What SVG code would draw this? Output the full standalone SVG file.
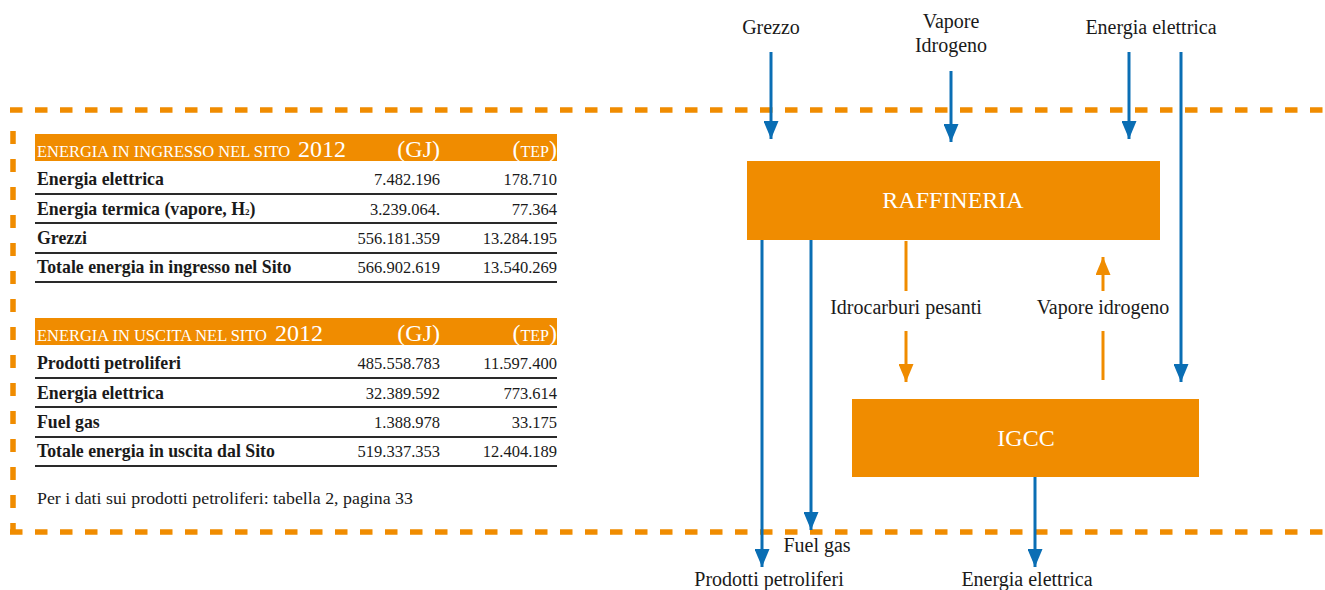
<svg xmlns="http://www.w3.org/2000/svg" width="1325" height="590" viewBox="0 0 1325 590">
<defs>
<style>
.t{font-family:"Liberation Serif","Times New Roman",serif;fill:#1a1a1a}
.lbl{font-size:20px;text-anchor:middle}
.rb{font-size:17.8px;font-weight:bold}
.num{font-size:16.5px;text-anchor:end}
.hd{fill:#ffffff;font-family:"Liberation Serif","Times New Roman",serif}
.bar{fill:#f08c00}
.rule{stroke:#2a2a2a;stroke-width:2}
.blue{stroke:#0a6eb4;stroke-width:3;fill:none}
.org{stroke:#f08c00;stroke-width:3;fill:none}
.dash{stroke:#f08c00;stroke-width:5.5;fill:none}
.box{fill:#f08c00}
.boxt{fill:#ffffff;font-family:"Liberation Serif","Times New Roman",serif;font-size:24px;text-anchor:middle}
</style>
<marker id="ab" markerWidth="6" markerHeight="5" refX="6" refY="2.5" orient="auto" markerUnits="strokeWidth"><path d="M0,0 L6,2.5 L0,5 Z" fill="#0a6eb4"/></marker>
<marker id="ao" markerWidth="6" markerHeight="5" refX="6" refY="2.5" orient="auto" markerUnits="strokeWidth"><path d="M0,0 L6,2.5 L0,5 Z" fill="#f08c00"/></marker>
</defs>
<rect width="1325" height="590" fill="#ffffff"/>

<g id="boundary">
<line class="dash" x1="10" y1="110" x2="1325" y2="110" stroke-dasharray="12.5 12.5"/>
<line class="dash" x1="10" y1="532" x2="1325" y2="532" stroke-dasharray="12.5 12.5"/>
<line class="dash" x1="13" y1="131" x2="13" y2="530" stroke-width="6" stroke-dasharray="13 15"/>
</g>

<g id="table-ingresso">
<rect class="bar" x="35" y="134" width="522" height="27"/>
<text class="hd" x="37" y="157" font-size="16" textLength="253" lengthAdjust="spacingAndGlyphs">ENERGIA IN INGRESSO NEL SITO</text>
<text class="hd" x="298" y="157" font-size="24">2012</text>
<text class="hd" x="440" y="157" font-size="24" text-anchor="end">(GJ)</text>
<text class="hd" x="557" y="157" text-anchor="end"><tspan font-size="24">(</tspan><tspan font-size="16">TEP</tspan><tspan font-size="24">)</tspan></text>
<text class="t rb" x="37" y="185">Energia elettrica</text>
<text class="t num" x="440" y="185">7.482.196</text>
<text class="t num" x="557" y="185">178.710</text>
<line class="rule" x1="35" y1="194" x2="557" y2="194"/>
<text class="t rb" x="37" y="215">Energia termica (vapore, H<tspan font-size="9">2</tspan>)</text>
<text class="t num" x="440" y="215">3.239.064.</text>
<text class="t num" x="557" y="215">77.364</text>
<line class="rule" x1="35" y1="223" x2="557" y2="223"/>
<text class="t rb" x="37" y="244">Grezzi</text>
<text class="t num" x="440" y="244">556.181.359</text>
<text class="t num" x="557" y="244">13.284.195</text>
<line class="rule" x1="35" y1="253" x2="557" y2="253" stroke="#555"/>
<text class="t rb" x="37" y="273">Totale energia in ingresso nel Sito</text>
<text class="t num" x="440" y="273">566.902.619</text>
<text class="t num" x="557" y="273">13.540.269</text>
<line class="rule" x1="35" y1="282" x2="557" y2="282"/>
</g>

<g id="table-uscita">
<rect class="bar" x="35" y="318" width="522" height="27"/>
<text class="hd" x="37" y="341" font-size="16" textLength="230" lengthAdjust="spacingAndGlyphs">ENERGIA IN USCITA NEL SITO</text>
<text class="hd" x="275" y="341" font-size="24">2012</text>
<text class="hd" x="440" y="341" font-size="24" text-anchor="end">(GJ)</text>
<text class="hd" x="557" y="341" text-anchor="end"><tspan font-size="24">(</tspan><tspan font-size="16">TEP</tspan><tspan font-size="24">)</tspan></text>
<text class="t rb" x="37" y="369">Prodotti petroliferi</text>
<text class="t num" x="440" y="369">485.558.783</text>
<text class="t num" x="557" y="369">11.597.400</text>
<line class="rule" x1="35" y1="378" x2="557" y2="378"/>
<text class="t rb" x="37" y="399">Energia elettrica</text>
<text class="t num" x="440" y="399">32.389.592</text>
<text class="t num" x="557" y="399">773.614</text>
<line class="rule" x1="35" y1="407" x2="557" y2="407"/>
<text class="t rb" x="37" y="428">Fuel gas</text>
<text class="t num" x="440" y="428">1.388.978</text>
<text class="t num" x="557" y="428">33.175</text>
<line class="rule" x1="35" y1="437" x2="557" y2="437" stroke="#555"/>
<text class="t rb" x="37" y="457">Totale energia in uscita dal Sito</text>
<text class="t num" x="440" y="457">519.337.353</text>
<text class="t num" x="557" y="457">12.404.189</text>
<line class="rule" x1="35" y1="466" x2="557" y2="466"/>
<text class="t" x="37" y="504" font-size="16.5" fill="#333" textLength="376" lengthAdjust="spacingAndGlyphs">Per i dati sui prodotti petroliferi: tabella 2, pagina 33</text>
</g>

<g id="raffineria">
<rect class="box" x="747" y="161" width="413" height="79"/>
<text class="boxt" x="953" y="208">RAFFINERIA</text>
</g>

<g id="igcc">
<rect class="box" x="852" y="399" width="347" height="78"/>
<text class="boxt" x="1026" y="446">IGCC</text>
</g>

<g id="connectors">
<line class="blue" x1="771" y1="52" x2="771" y2="139" marker-end="url(#ab)"/>
<line class="blue" x1="951" y1="71" x2="951" y2="142" marker-end="url(#ab)"/>
<line class="blue" x1="1129" y1="52" x2="1129" y2="139" marker-end="url(#ab)"/>
<line class="blue" x1="1181" y1="52" x2="1181" y2="382" marker-end="url(#ab)"/>
<line class="blue" x1="762" y1="240" x2="762" y2="567" marker-end="url(#ab)"/>
<line class="blue" x1="811" y1="240" x2="811" y2="530" marker-end="url(#ab)"/>
<line class="blue" x1="1035" y1="477" x2="1035" y2="567" marker-end="url(#ab)"/>
<line class="org" x1="906" y1="241" x2="906" y2="291"/>
<line class="org" x1="906" y1="331" x2="906" y2="382" marker-end="url(#ao)"/>
<line class="org" x1="1103" y1="291" x2="1103" y2="257" marker-end="url(#ao)"/>
<line class="org" x1="1103" y1="331" x2="1103" y2="380"/>
</g>

<g id="labels">
<text class="t lbl" x="771" y="34">Grezzo</text>
<text class="t lbl" x="951" y="28">Vapore</text>
<text class="t lbl" x="951" y="52">Idrogeno</text>
<text class="t lbl" x="1151" y="34">Energia elettrica</text>
<text class="t lbl" x="906" y="314">Idrocarburi pesanti</text>
<text class="t lbl" x="1103" y="314">Vapore idrogeno</text>
<text class="t lbl" x="817" y="552">Fuel gas</text>
<text class="t lbl" x="769" y="586">Prodotti petroliferi</text>
<text class="t lbl" x="1027" y="586">Energia elettrica</text>
</g>
</svg>
